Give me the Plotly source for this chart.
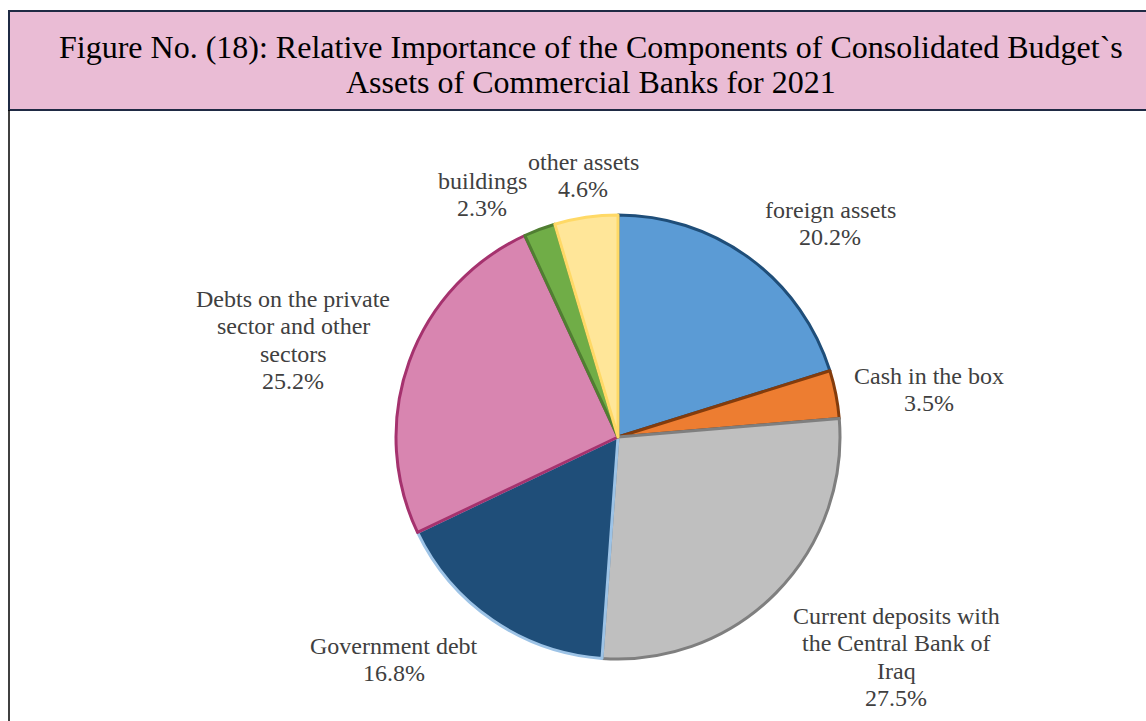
import plotly.graph_objects as go

# Asset components of the consolidated budget of commercial banks, 2021 (%)
labels = [
    "foreign assets",
    "Cash in the box",
    "Current deposits with<br>the Central Bank of<br>Iraq",
    "Government debt",
    "Debts on the private<br>sector and other<br>sectors",
    "buildings",
    "other assets",
]
shares = [20.2, 3.5, 27.5, 16.8, 25.2, 2.3, 4.6]
fill_colors = ["#5B9BD5", "#ED7D31", "#BFBFBF", "#1F4E79", "#D885B0", "#70AD47", "#FFE699"]
edge_colors = ["#1F4E79", "#843C0C", "#7F7F7F", "#9DC3E6", "#A5326E", "#507E32", "#FFD966"]

title_lines = [
    "Figure No. (18): Relative Importance of the Components of Consolidated Budget`s",
    "Assets of Commercial Banks for 2021",
]

W, H = 1146, 721
cx, cy, r = 618, 437, 222

# label block: centre x and y of the first line, in pixels
label_pos = [(830, 210), (929, 376), (896, 616), (394, 646), (293, 299), (482, 181), (583, 162)]
LINE_PITCH = 27.3

fig = go.Figure()
fig.add_trace(go.Pie(
    labels=[l.replace("<br>", " ") for l in labels],
    values=shares,
    sort=False,
    direction="clockwise",
    rotation=0,
    textinfo="none",
    hoverinfo="label+percent",
    marker=dict(colors=fill_colors, line=dict(color=edge_colors, width=3)),
    domain=dict(x=[(cx - r) / W, (cx + r) / W], y=[1 - (cy + r) / H, 1 - (cy - r) / H]),
    showlegend=False,
))

label_font = dict(family="Liberation Serif", size=24, color="#404040")
annotations = []
for lab, val, (px, py) in zip(labels, shares, label_pos):
    lines = lab.split("<br>") + [f"{val}%"]
    for i, line in enumerate(lines):
        annotations.append(dict(
            x=px / W, y=1 - (py + i * LINE_PITCH) / H, xref="paper", yref="paper",
            text=line, showarrow=False, xanchor="center", yanchor="middle",
            font=label_font,
        ))

for i, line in enumerate(title_lines):
    annotations.append(dict(
        x=591 / W, y=1 - (47 + i * 35) / H, xref="paper", yref="paper",
        text=line, showarrow=False, xanchor="center", yanchor="middle",
        font=dict(family="Liberation Serif", size=32, color="#000000"),
    ))

shapes = [
    # title banner
    dict(type="rect", xref="paper", yref="paper",
         x0=9 / W, x1=1.01, y0=1 - 110 / H, y1=1 - 11 / H,
         fillcolor="#EABCD5", line=dict(color="#1F2A44", width=2), layer="below"),
    # left frame edge below the banner
    dict(type="line", xref="paper", yref="paper",
         x0=9 / W, x1=9 / W, y0=0, y1=1 - 110 / H,
         line=dict(color="#000000", width=1.5)),
]

fig.update_layout(
    width=W, height=H,
    margin=dict(l=0, r=0, t=0, b=0),
    paper_bgcolor="white", plot_bgcolor="white",
    annotations=annotations, shapes=shapes,
)

fig.write_html("out.html")
